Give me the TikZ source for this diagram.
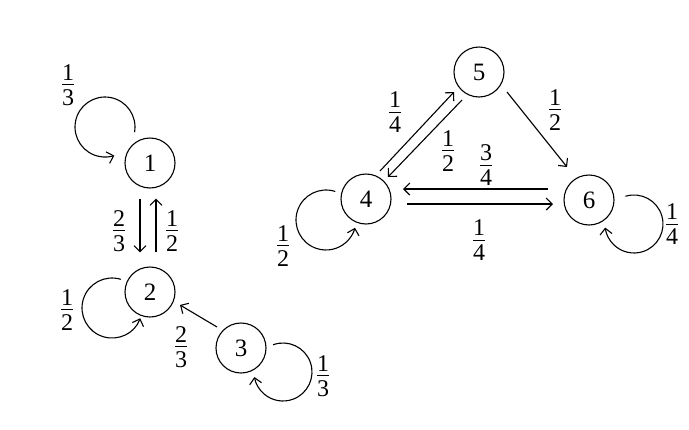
\documentclass[tikz,border=0pt]{standalone}
\usepackage{fontspec}
\setmainfont{Liberation Serif}
\usetikzlibrary{arrows.meta,calc}
\newcommand\fr[2]{\vbox{\hbox to 12pt{\hss#1\hss}\kern4pt\hrule height 1pt\kern4pt\hbox to 12pt{\hss#2\hss}}}
\begin{document}
\begin{tikzpicture}[x=1pt,y=1pt,
  state/.style={circle,draw,line width=1.1pt,minimum size=50pt,inner sep=0pt,font=\fontsize{25}{29}\selectfont},
  lab/.style={inner sep=0pt,font=\fontsize{24}{28}\selectfont},
  conn/.style={line width=1.1pt,-{Straight Barb[length=6pt,width=12pt]}}]
\useasboundingbox (0,0) rectangle (689,-429);
\node[state] (n1) at (150,-163) {1};
\node[state] (n2) at (150,-292) {2};
\node[state] (n3) at (241,-348) {3};
\node[state] (n4) at (366,-199) {4};
\node[state] (n5) at (479,-72) {5};
\node[state] (n6) at (589,-200) {6};
% loops
\draw[conn] ([shift={(-45,36)}]n1.center) ++(-10:30) arc[start angle=-10,end angle=288,radius=30];
\draw[conn] ([shift={(-38,-16)}]n2.center) ++(73:30) arc[start angle=73,end angle=340,radius=30];
\draw[conn] ([shift={(42,-24)}]n3.center) ++(110:29) arc[start angle=110,end angle=-170,radius=29];
\draw[conn] ([shift={(-40,-21)}]n4.center) ++(72:30) arc[start angle=72,end angle=345,radius=30];
\draw[conn] ([shift={(45,-24)}]n6.center) ++(107:29) arc[start angle=107,end angle=-173,radius=29];
% straight edges
\draw[conn] ([shift={(-10,-10)}]n1.south) -- ([shift={(-10,14)}]n2.north);
\draw[conn] ([shift={(6,14)}]n2.north) -- ([shift={(6,-10)}]n1.south);
\draw[conn] ([shift={(-24,21)}]n3.center) -- ([shift={(30,-13)}]n2.center);
\draw[conn] ([shift={(14,28)}]n4.center) -- ([shift={(-25,-20)}]n5.center);
\draw[conn] ([shift={(-17,-28)}]n5.center) -- ([shift={(22,22)}]n4.center);
\draw[conn] ([shift={(28,-20)}]n5.center) -- ([shift={(-22,33)}]n6.center);
\draw[conn] ([shift={(-41,11)}]n6.center) -- ([shift={(37,10)}]n4.center);
\draw[conn] ([shift={(41,-5)}]n4.center) -- ([shift={(-36,-4)}]n6.center);
% labels
\node[lab] (l11) at (68,-85) {\fr{1}{3}};
\node[lab] (l12) at (119,-231) {\fr{2}{3}};
\node[lab] (l21) at (172,-231) {\fr{1}{2}};
\node[lab] (l22) at (67,-310) {\fr{1}{2}};
\node[lab] (l32) at (181,-347) {\fr{2}{3}};
\node[lab] (l33) at (323,-376) {\fr{1}{3}};
\node[lab] (l45) at (395,-112) {\fr{1}{4}};
\node[lab] (l54) at (448,-151) {\fr{1}{2}};
\node[lab] (l56) at (555,-110) {\fr{1}{2}};
\node[lab] (l64) at (486,-165) {\fr{3}{4}};
\node[lab] (l46) at (479,-240) {\fr{1}{4}};
\node[lab] (l44) at (283,-246) {\fr{1}{2}};
\node[lab] (l66) at (672,-224) {\fr{1}{4}};
\end{tikzpicture}
\end{document}
